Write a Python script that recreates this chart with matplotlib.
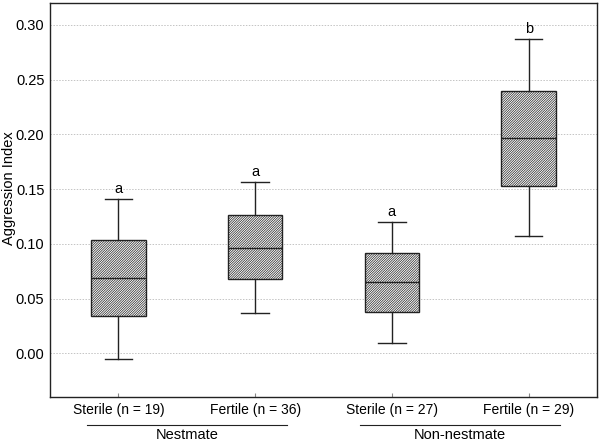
import matplotlib
matplotlib.use("Agg")
import matplotlib.pyplot as plt

plt.rcParams['font.family'] = ['Liberation Sans', 'DejaVu Sans']
plt.rcParams['hatch.linewidth'] = 0.5
plt.rcParams['hatch.color'] = '#3a3a3a'

categories = ["Sterile (n = 19)", "Fertile (n = 36)", "Sterile (n = 27)", "Fertile (n = 29)"]
groups = ["Nestmate", "Non-nestmate"]
whislo = [-0.005, 0.037, 0.009, 0.107]
q1 = [0.034, 0.068, 0.038, 0.153]
med = [0.069, 0.096, 0.065, 0.197]
q3 = [0.103, 0.126, 0.092, 0.240]
whishi = [0.141, 0.156, 0.120, 0.287]
letters = ["a", "a", "a", "b"]
yticks = [0.00, 0.05, 0.10, 0.15, 0.20, 0.25, 0.30]

fig = plt.figure(figsize=(6.0, 4.43), dpi=100)
ax = fig.add_axes([50/600, 1 - 397/443, 547/600, 394/443])

stats = []
for i in range(len(categories)):
    stats.append(dict(whislo=whislo[i], q1=q1[i], med=med[i], q3=q3[i],
                      whishi=whishi[i], fliers=[], label=categories[i]))
positions = list(range(1, len(categories) + 1))
bp = ax.bxp(stats, positions=positions, widths=0.4, patch_artist=True,
            showfliers=False,
            boxprops=dict(facecolor='white', edgecolor='#222222', linewidth=1.0,
                          hatch='//////////////'),
            medianprops=dict(color='#222222', linewidth=1.0),
            whiskerprops=dict(color='#222222', linewidth=1.0),
            capprops=dict(color='#222222', linewidth=1.0),
            capwidths=0.2)

for i, p in enumerate(positions):
    ax.text(p, whishi[i] + 0.003, letters[i], ha='center', va='bottom', fontsize=10.5)

ax.set_xlim(0.5, 4.5)
ax.set_ylim(-0.04, 0.32)
ax.set_yticks(yticks)
ax.set_yticklabels([f"{v:.2f}" for v in yticks], fontsize=10.5)
ax.set_xticks(positions)
ax.set_xticklabels(categories, fontsize=10)
ax.tick_params(axis='y', length=0, pad=4)
ax.tick_params(axis='x', direction='in', length=3, pad=4, color='#888888')
ax.yaxis.grid(True, linestyle=(0, (1.5, 1.5)), color='#c4c4c4', linewidth=0.7)
ax.set_axisbelow(True)
for s in ax.spines.values():
    s.set_linewidth(1.0)
    s.set_color('#222222')
ax.set_ylabel("Aggression Index", fontsize=10.5)
ax.yaxis.set_label_coords(-34/547, 0.53)

# group annotations
trans = ax.get_xaxis_transform()
for gi, g in enumerate(groups):
    c = 1.5 + 2 * gi
    ax.plot([c - 0.73, c + 0.73], [-0.072, -0.072], transform=trans, color='#222222',
            linewidth=0.8, clip_on=False)
    ax.text(c, -0.106, g, transform=trans, ha='center', va='baseline', fontsize=10.5)

fig.savefig("out.png", dpi=100)
